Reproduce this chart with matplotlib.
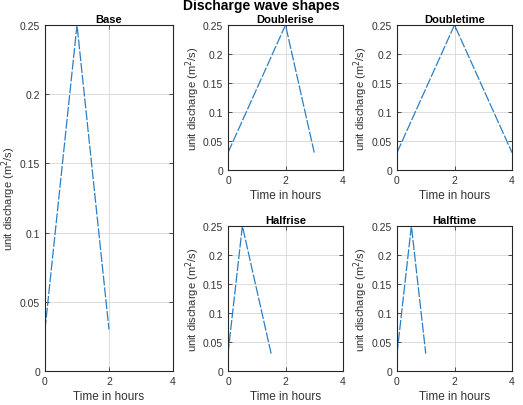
import matplotlib
matplotlib.use("Agg")
import matplotlib.pyplot as plt

plt.rcParams['font.family'] = ['Liberation Sans', 'DejaVu Sans']

# wave shapes: time (hours) and unit discharge (m2/s)
names = ["Base", "Doublerise", "Doubletime", "Halfrise", "Halftime"]
times = [
    [0, 1, 2],
    [0, 2, 3],
    [0, 2, 4],
    [0, 0.5, 1.5],
    [0, 0.5, 1],
]
flows = [
    [0.03, 0.25, 0.03],
    [0.03, 0.25, 0.03],
    [0.03, 0.25, 0.03],
    [0.03, 0.25, 0.03],
    [0.03, 0.25, 0.03],
]
yticks = [0, 0.05, 0.1, 0.15, 0.2, 0.25]
ytick_labels = ["0", "0.05", "0.1", "0.15", "0.2", "0.25"]
xticks = [0, 2, 4]

W, H = 523, 406
boxes = [
    (45, 26, 173, 372),
    (228, 26, 343, 171),
    (397, 26, 512, 171),
    (228, 227, 343, 372),
    (397, 227, 512, 372),
]

fig = plt.figure(figsize=(W / 100, H / 100), dpi=100)
fig.suptitle("Discharge wave shapes", fontsize=10, fontweight='bold', y=1.002)

for i, name in enumerate(names):
    x0, y0, x1, y1 = boxes[i]
    ax = fig.add_axes([x0 / W, 1 - y1 / H, (x1 - x0) / W, (y1 - y0) / H])
    ax.plot(times[i], flows[i], color='#2b7fc4', lw=0.9, dashes=(8, 1.5))
    ax.set_xlim(0, 4)
    ax.set_ylim(0, 0.25)
    ax.set_xticks(xticks)
    ax.set_yticks(yticks)
    ax.set_yticklabels(ytick_labels)
    ax.grid(True, color='#dcdcdc', lw=0.7)
    ax.set_axisbelow(True)
    ax.tick_params(direction='in', length=3, width=0.6, labelsize=7.5,
                   colors='#333333', top=True, right=True)
    for sp in ax.spines.values():
        sp.set_linewidth(0.8)
        sp.set_color('#262626')
    ax.set_title(name, fontsize=8, fontweight='bold', pad=2)
    ax.set_xlabel("Time in hours", fontsize=8.5, color='#333333', labelpad=3)
    ax.set_ylabel("unit discharge (m$^2$/s)", fontsize=8, color='#333333', labelpad=1)

fig.savefig("out.png", dpi=100)
